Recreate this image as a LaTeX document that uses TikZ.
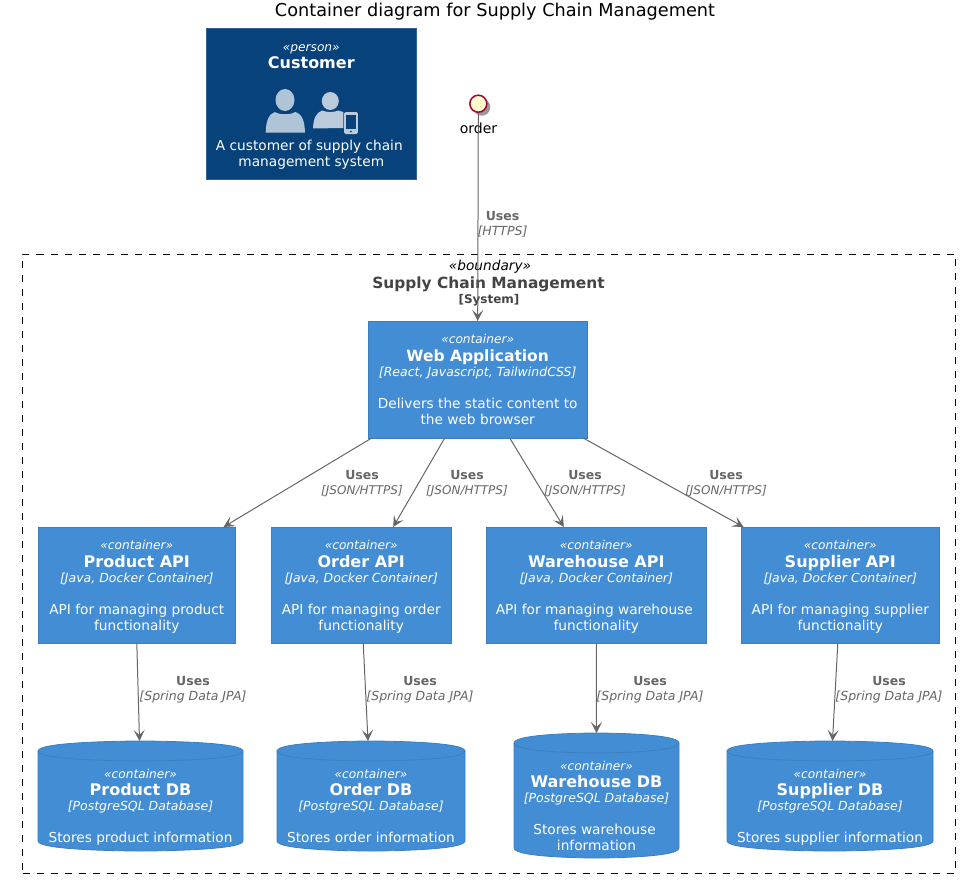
\documentclass[tikz,border=0pt]{standalone}
\usepackage{fontspec}
\setmainfont{DejaVu Sans}
\usetikzlibrary{arrows.meta,calc,backgrounds,shadows}
\definecolor{persfill}{HTML}{08427B}
\definecolor{persline}{HTML}{2E6295}
\definecolor{contfill}{HTML}{438DD5}
\definecolor{contline}{HTML}{3C7FC0}
\definecolor{relgray}{HTML}{666666}
\definecolor{bndtext}{HTML}{444444}
\definecolor{iconA}{HTML}{B0C4D8}
\definecolor{iconB}{HTML}{BBCBDC}
\definecolor{ordline}{HTML}{A80036}
\definecolor{ordfill}{HTML}{FEFECE}
\newcommand{\fs}[1]{\fontsize{#1}{16}\selectfont}
\newcommand{\blkn}[7]{\rule{0pt}{#1pt}{\fs{12.2}\itshape «#2»}\\[1.5pt]{\fs{#7}\bfseries #3}\\[-1pt]{\fs{12.5}\itshape [#4]}\\[#5]#6\rule[-4pt]{0pt}{4pt}}
\newcommand{\blk}[6]{\blkn{#1}{#2}{#3}{#4}{#5}{#6}{16}}
\newcommand{\tsp}{\rule{4pt}{0pt}}
\tikzset{
  x=1pt,y=-1pt,
  boxbase/.style={rectangle,inner sep=0pt,outer sep=0pt,align=center,text=white,
    font=\fontsize{13.7}{16}\selectfont},
  personbox/.style={boxbase,fill=persfill,draw=persline,line width=.7pt},
  contbox/.style={boxbase,fill=contfill,draw=contline,line width=.8pt},
  dbbox/.style={boxbase},
  cylshape/.style={fill=contfill,draw=contline,line width=.8pt},
  rel/.style={draw=relgray,line width=1pt,-{Stealth[length=11pt,width=11pt,inset=5pt]}},
  rellabel/.style={inner sep=0pt,align=center,text=relgray,font=\fontsize{12.5}{15}\selectfont},
  person/.style={fill=iconA,draw=none},
  personsmall/.style={fill=iconB,draw=none}
}
\newcommand{\rl}[2]{{\bfseries #1}\\{\itshape [#2]}}
\newcommand{\rlj}[2]{{\bfseries #1}\\{\fontsize{12}{15}\selectfont\itshape [#2]}}
\newcommand{\dbshape}[1]{%
\begin{scope}[on background layer]
\path[cylshape] ($(#1.north west)+(0,10)$)
  .. controls (#1.north west) and (#1.north) .. (#1.north)
  .. controls (#1.north) and (#1.north east) .. ($(#1.north east)+(0,10)$)
  -- ($(#1.south east)+(0,-10)$)
  .. controls (#1.south east) and (#1.south) .. (#1.south)
  .. controls (#1.south) and (#1.south west) .. ($(#1.south west)+(0,-10)$) -- cycle;
\draw[contline,line width=.8pt] ($(#1.north west)+(0,10)$)
  .. controls ($(#1.north west)+(0,20)$) and ($(#1.north)+(0,20)$) .. ($(#1.north)+(0,20)$)
  .. controls ($(#1.north)+(0,20)$) and ($(#1.north east)+(0,20)$) .. ($(#1.north east)+(0,10)$);
\end{scope}}
\begin{document}
\begin{tikzpicture}
\lineskiplimit=-30pt \normallineskiplimit=-30pt
\useasboundingbox (0,0) rectangle (965,883);
% title
\node[inner sep=0pt,font=\fontsize{17.7}{20}\selectfont] (title) at (495,12) {Container diagram for Supply Chain Management};
% boundary
\node[draw=black,dashed,dash pattern=on 7pt off 7pt,line width=.9pt,rectangle,inner sep=0pt,minimum width=933pt,minimum height=619pt] (boundary) at (489,563.5) {};
\node[inner sep=0pt,font=\fontsize{13.7}{16}\selectfont\itshape,anchor=base] (bstereo) at (490,270) {«boundary»};
\node[inner sep=0pt,text=bndtext,font=\fontsize{15.4}{18}\selectfont\bfseries,anchor=base] (bname) at (488.5,288) {Supply Chain Management};
\node[inner sep=0pt,text=bndtext,font=\fontsize{12}{14}\selectfont\bfseries,anchor=base] (bkind) at (489,303) {[System]};
% customer
\node[personbox,minimum width=210.5pt,minimum height=151pt] (customer) at (311.3,103.5) {\rule{0pt}{14pt}{\fs{12.2}\itshape «person»}\\[1.5pt]{\fs{16}\bfseries Customer}\\[65.5pt]A customer of supply chain\tsp\\management system\rule[-4pt]{0pt}{4pt}};
% icons
\fill[person] (285,100) ellipse (9.5 and 11);
\fill[person] (265.7,132.7) .. controls (266,120) and (269,114) .. (275,112) .. controls (279,115) and (291,115) .. (295,112) .. controls (302,114) and (304.5,120) .. (305,132.7) -- cycle;
\fill[personsmall] (330.3,101) ellipse (8.5 and 9);
\fill[personsmall] (313,128.5) .. controls (313.5,118) and (316,113) .. (322,110.5) .. controls (326,112.5) and (335,112.5) .. (338,110.5) -- (343.3,112) -- (343.3,128) -- cycle;
\fill[personsmall,rounded corners=1.5pt] (344,112) rectangle (357.8,134);
\fill[persfill] (346,115) rectangle (355.8,129);
\fill[persfill] (350.9,131.5) circle (1);
% order interface
\node[circle,draw=ordline,fill=ordfill,line width=1.5pt,minimum size=17pt,inner sep=0pt,drop shadow={shadow xshift=3.5pt,shadow yshift=-3.5pt,fill=black,opacity=.4}] (order) at (478.3,103.7) {};
\node[inner sep=0pt,font=\fontsize{14}{16}\selectfont,anchor=base] (orderlabel) at (478.5,133) {order};
% containers
\node[contbox,minimum width=219pt,minimum height=117pt] (web) at (477.7,379.5) {\blkn{13}{container}{Web Application}{React, Javascript, TailwindCSS}{16pt}{Delivers the static content to\\the web browser}{15.5}};
\node[contbox,minimum width=197.5pt,minimum height=116pt] (productapi) at (136.8,585) {\blk{14}{container}{Product API}{Java, Docker Container}{16pt}{API for managing product\\functionality}};
\node[contbox,minimum width=180.5pt,minimum height=116pt] (orderapi) at (361.2,585) {\blk{14}{container}{Order API}{Java, Docker Container}{16pt}{API for managing order\\functionality}};
\node[contbox,minimum width=220.5pt,minimum height=116pt] (warehouseapi) at (596.3,585) {\blk{14}{container}{Warehouse API}{Java, Docker Container}{16pt}{API for managing warehouse\tsp\\functionality}};
\node[contbox,minimum width=198.5pt,minimum height=116pt] (supplierapi) at (840.3,585) {\blk{14}{container}{Supplier API}{Java, Docker Container}{16pt}{API for managing supplier\\functionality}};
% databases
\node[dbbox,minimum width=205pt,minimum height=110pt] (productdb) at (140.5,796) {\blk{33}{container}{Product DB}{PostgreSQL Database}{16pt}{Stores product information}};
\node[dbbox,minimum width=188pt,minimum height=110pt] (orderdb) at (371,796) {\blk{33}{container}{Order DB}{PostgreSQL Database}{16pt}{Stores order information}};
\node[dbbox,minimum width=165pt,minimum height=125pt] (warehousedb) at (596.5,795.5) {\blk{34}{container}{Warehouse DB}{PostgreSQL Database}{16pt}{Stores warehouse\tsp\\information}};
\node[dbbox,minimum width=206pt,minimum height=110pt] (supplierdb) at (830,796) {\blk{33}{container}{Supplier DB}{PostgreSQL Database}{16pt}{Stores supplier information}};
\dbshape{productdb}\dbshape{orderdb}\dbshape{warehousedb}\dbshape{supplierdb}
% connectors
\draw[rel] (order.south) -- (web.north);
\draw[rel] ($(web.south west)+(3.5,0)$) -- ($(productapi.north east)+(-12,0)$);
\draw[rel] ($(web.south)+(-33,0)$) -- ($(orderapi.north)+(32,0)$);
\draw[rel] ($(web.south)+(32,0)$) -- ($(warehouseapi.north)+(-32.5,0)$);
\draw[rel] ($(web.south east)+(-4,0)$) -- ($(supplierapi.north west)+(2.5,0)$);
\draw[rel] (productapi.south) -- ($(productdb.north)+(-1,0)$);
\draw[rel] ($(orderapi.south)+(2,0)$) -- ($(orderdb.north)+(-3,0)$);
\draw[rel] (warehouseapi.south) -- (warehousedb.north);
\draw[rel] ($(supplierapi.south)+(-2.5,0)$) -- ($(supplierdb.north)+(2.5,0)$);
% labels
\node[rellabel] (l0) at (502.5,224) {\rl{Uses}{HTTPS}};
\node[rellabel] (l1) at (362,484) {\rlj{Uses}{JSON/HTTPS}};
\node[rellabel] (l2) at (467,484) {\rlj{Uses}{JSON/HTTPS}};
\node[rellabel] (l3) at (585,484) {\rlj{Uses}{JSON/HTTPS}};
\node[rellabel] (l4) at (726,484) {\rlj{Uses}{JSON/HTTPS}};
\node[rellabel] (l5) at (193,690) {\rl{Uses}{Spring Data JPA}};
\node[rellabel] (l6) at (420,690) {\rl{Uses}{Spring Data JPA}};
\node[rellabel] (l7) at (650,690) {\rl{Uses}{Spring Data JPA}};
\node[rellabel] (l8) at (889,690) {\rl{Uses}{Spring Data JPA}};
\end{tikzpicture}
\end{document}
